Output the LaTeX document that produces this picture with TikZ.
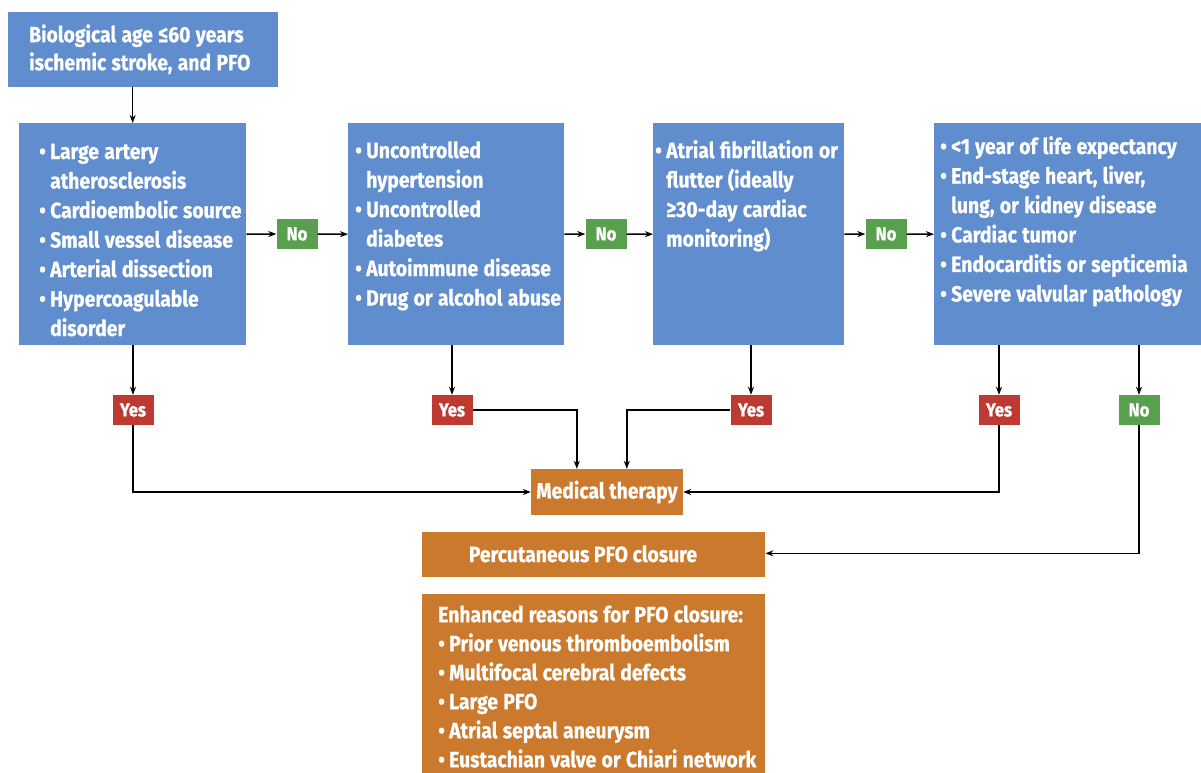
\documentclass[tikz,border=0pt]{standalone}
\usepackage{fontspec}
\setmainfont{Fira Sans}[FakeStretch=0.88, BoldFeatures={FakeBold=0.6}]
\usetikzlibrary{arrows.meta,calc}
\definecolor{boxblue}{RGB}{96,141,206}
\definecolor{boxorange}{RGB}{203,122,45}
\definecolor{yesred}{RGB}{190,58,48}
\definecolor{nogreen}{RGB}{88,160,78}
\newcommand\nl{\hfil\break}
\newcommand\bitem[1]{\ifhmode\par\fi\hangindent=11pt\hangafter=1\noindent\makebox[11pt][l]{\strut•}#1\par}
\begin{document}
\begin{tikzpicture}[x=1pt,y=-1pt,
  panel/.style={fill=#1, draw=none, inner sep=0, anchor=north west},
  txt/.style={text=white, font=\bfseries\fontsize{22}{29.5}\selectfont, anchor=north west, inner sep=0, text width=#1,
    execute at begin node={\spaceskip=5.3pt\xspaceskip=5.3pt}},
  tag/.style={fill=#1, text=white, font=\bfseries\fontsize{19}{22}\selectfont, minimum width=41pt, minimum height=30pt, inner sep=0},
  arr/.style={draw=black, line width=1.5pt, -{Stealth[length=8pt,width=6pt]}}
]
\useasboundingbox (0,0) rectangle (1201,773);
\fill[white] (0,0) rectangle (1201,773);

% top box
\node[panel=boxblue, minimum width=270pt, minimum height=75pt] (t) at (8,12) {};
\node[txt=262pt, font=\bfseries\fontsize{22}{28}\selectfont] (tt) at (29,22.4) {\strut Biological age ≤60 years\nl ischemic stroke, and PFO};

% main boxes
\node[panel=boxblue, minimum width=227pt, minimum height=222pt] (b1) at (19,123) {};
\node[panel=boxblue, minimum width=216pt, minimum height=222pt] (b2) at (348,123) {};
\node[panel=boxblue, minimum width=191pt, minimum height=222pt] (b3) at (653,123) {};
\node[panel=boxblue, minimum width=270pt, minimum height=222pt] (b4) at (934,123) {};

\node[txt=220pt] (b1t) at (39,129.3) {%
\bitem{Large artery\nl atherosclerosis}
\bitem{Cardioembolic source}
\bitem{Small vessel disease}
\bitem{Arterial dissection}
\bitem{Hypercoagulable\nl disorder}};

\node[txt=220pt] (b2t) at (355,128.3) {%
\bitem{Uncontrolled\nl hypertension}
\bitem{Uncontrolled\nl diabetes}
\bitem{Autoimmune disease}
\bitem{Drug or alcohol abuse}};

\node[txt=210pt] (b3t) at (655,128.3) {%
\bitem{Atrial fibrillation or\nl flutter (ideally\nl ≥30-day cardiac\nl monitoring)}};

\node[txt=265pt] (b4t) at (940,124.3) {%
\bitem{<1 year of life expectancy}
\bitem{End-stage heart, liver,\nl lung, or kidney disease}
\bitem{Cardiac tumor}
\bitem{Endocarditis or septicemia}
\bitem{Severe valvular pathology}};

% No tags between boxes
\node[tag=nogreen] (n1) at (297,234) {No};
\node[tag=nogreen] (n2) at (606,234) {No};
\node[tag=nogreen] (n3) at (886,234) {No};

% Yes / No tags below
\node[tag=yesred] (y1) at (133,410) {Yes};
\node[tag=yesred] (y2) at (452,410) {Yes};
\node[tag=yesred] (y3) at (751,410) {Yes};
\node[tag=yesred] (y4) at (999,410) {Yes};
\node[tag=nogreen] (n4) at (1139,410) {No};

% orange boxes
\node[panel=boxorange, minimum width=152pt, minimum height=46pt, anchor=center, text=white, font=\bfseries\fontsize{22}{24}\selectfont] (med) at (607,492) {Medical therapy};
\node[panel=boxorange, minimum width=343pt, minimum height=45pt] (perc) at (422,532) {};
\node[text=white, font=\bfseries\fontsize{22}{24}\selectfont, anchor=base, inner sep=0] (perct) at (583,562) {Percutaneous PFO closure};
\node[panel=boxorange, minimum width=343pt, minimum height=179pt] (enh) at (422,594) {};
\node[txt=335pt, font=\bfseries\fontsize{22}{29}\selectfont] (enht) at (438,601.7) {%
\strut Enhanced reasons for PFO closure:
\bitem{Prior venous thromboembolism}
\bitem{Multifocal cerebral defects}
\bitem{Large PFO}
\bitem{Atrial septal aneurysm}
\bitem{Eustachian valve or Chiari network}};

% connectors
\draw[arr] (t.south -| b1.north) -- (b1.north);
\draw[arr] (b1.east) -- (n1.west);
\draw[arr] (n1.east) -- (b2.west);
\draw[arr] (b2.east) -- (n2.west);
\draw[arr] (n2.east) -- (b3.west);
\draw[arr] (b3.east) -- (n3.west);
\draw[arr] (n3.east) -- (b4.west);

\draw[arr] (b1.south -| y1.north) -- (y1.north);
\draw[arr] (b2.south -| y2.north) -- (y2.north);
\draw[arr] (b3.south -| y3.north) -- (y3.north);
\draw[arr] (b4.south -| y4.north) -- (y4.north);
\draw[arr] (b4.south -| n4.north) -- (n4.north);

\coordinate (m2) at ($(med.north west)+(46,0)$);
\coordinate (m3) at ($(med.north west)+(96,0)$);
\draw[arr] (y1.south) |- (med.west);
\draw[arr] (y2.east) -| (m2);
\draw[arr] (y3.west) -| (m3);
\draw[arr] (y4.south) |- (med.east);
\draw[arr] (n4.south) |- ($(perc.north east)!0.47!(perc.south east)$);
\end{tikzpicture}
\end{document}
